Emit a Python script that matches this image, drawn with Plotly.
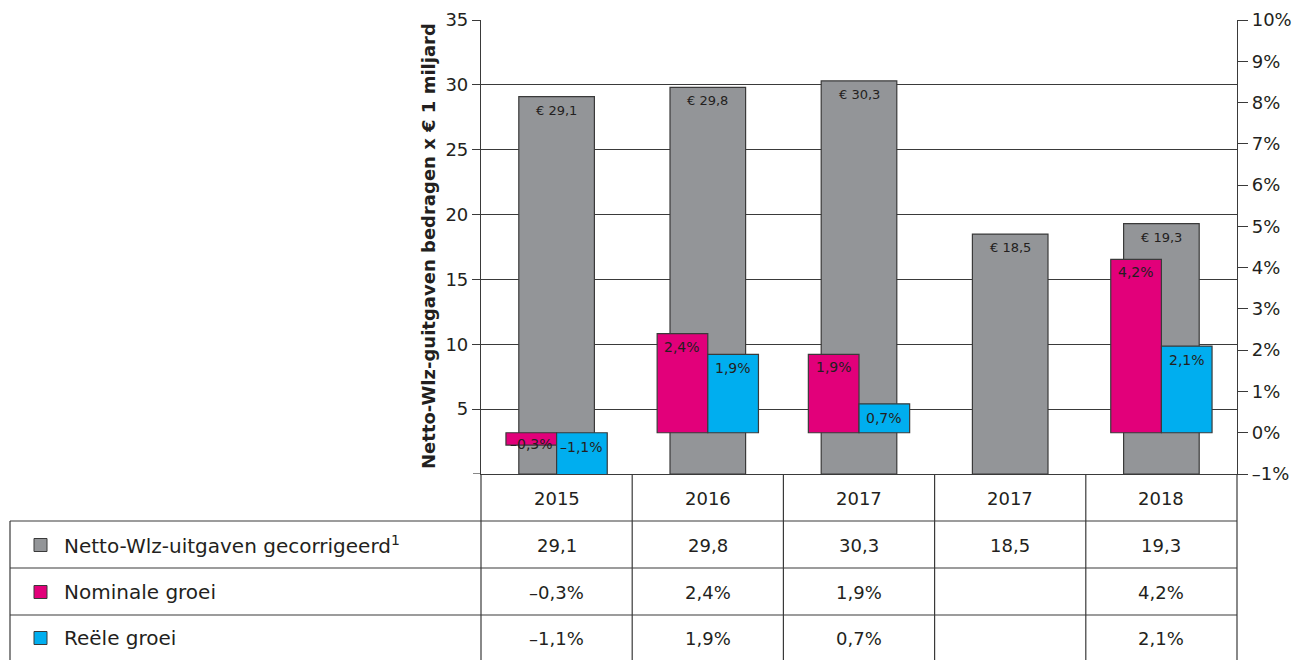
import plotly.graph_objects as go

# ---- data ----
years = ["2015", "2016", "2017", "2017", "2018"]
netto = [29.1, 29.8, 30.3, 18.5, 19.3]
nominaal = [-0.3, 2.4, 1.9, None, 4.2]
reeel = [-1.1, 1.9, 0.7, None, 2.1]
netto_txt = ["29,1", "29,8", "30,3", "18,5", "19,3"]
nominaal_txt = ["\u20130,3%", "2,4%", "1,9%", "", "4,2%"]
reeel_txt = ["\u20131,1%", "1,9%", "0,7%", "", "2,1%"]
row_labels = ["Netto-Wlz-uitgaven gecorrigeerd<sup>1</sup>", "Nominale groei", "Reële groei"]
left_ticks = [5, 10, 15, 20, 25, 30, 35]
right_ticks = list(range(-1, 11))

GREY = "#939598"
PINK = "#e2007a"
BLUE = "#00aeef"
LINE = "#3a3a3a"
TXT = "#231f20"
FONT = "DejaVu Sans, Liberation Sans, Arial, sans-serif"

W, H = 1295, 660
L, R, T, B = 481, 1237, 20, 474  # plot area in px


def px(xp):
    return (xp - L) / (R - L)


def py(yp):
    return (B - yp) / (B - T)


xs = list(range(len(years)))
fig = go.Figure()

fig.add_trace(go.Bar(x=xs, y=netto, width=0.5, offset=-0.25, marker=dict(color=GREY, line=dict(color=LINE, width=1.2)),
                     yaxis="y", hoverinfo="skip", showlegend=False))
fig.add_trace(go.Bar(x=xs, y=nominaal, width=0.335, offset=-0.335, marker=dict(color=PINK, line=dict(color=LINE, width=1.2)),
                     yaxis="y2", cliponaxis=False, hoverinfo="skip", showlegend=False))
fig.add_trace(go.Bar(x=xs, y=reeel, width=0.335, offset=0.0, marker=dict(color=BLUE, line=dict(color=LINE, width=1.2)),
                     yaxis="y2", cliponaxis=False, hoverinfo="skip", showlegend=False))

ann = []
# bar labels
for i, v in enumerate(netto):
    ann.append(dict(x=i, y=v, xref="x", yref="y", text="\u20ac " + netto_txt[i], showarrow=False,
                    xanchor="center", yanchor="top", yshift=-4, font=dict(size=13, color=TXT, family=FONT)))
for i, v in enumerate(nominaal):
    if v is None:
        continue
    ann.append(dict(x=i - 0.1675, y=max(v, 0), xref="x", yref="y2", text=nominaal_txt[i], showarrow=False,
                    xanchor="center", yanchor="top", yshift=-1 if v < 0 else -3,
                    font=dict(size=14, color=TXT, family=FONT)))
for i, v in enumerate(reeel):
    if v is None:
        continue
    ann.append(dict(x=i + 0.1675, y=max(v, 0), xref="x", yref="y2", text=reeel_txt[i], showarrow=False,
                    xanchor="center", yanchor="top", yshift=-4, font=dict(size=14, color=TXT, family=FONT)))

# y axis title
ann.append(dict(x=px(428), y=py(246), xref="paper", yref="paper",
                text="<b>Netto-Wlz-guitgaven bedragen x \u20ac 1 miljard</b>",
                textangle=-90, showarrow=False, xanchor="center", yanchor="middle",
                font=dict(size=18, color=TXT, family=FONT)))

# table
row_y = [498, 545, 592, 638]
n = len(years)
for i, yr in enumerate(years):
    cx = (i + 0.5) / n
    ann.append(dict(x=cx, y=py(row_y[0]), xref="paper", yref="paper", text=yr, showarrow=False,
                    xanchor="center", yanchor="middle", font=dict(size=18, color=TXT, family=FONT)))
    for r, vals in enumerate([netto_txt, nominaal_txt, reeel_txt]):
        if not vals[i]:
            continue
        ann.append(dict(x=cx, y=py(row_y[r + 1]), xref="paper", yref="paper", text=vals[i], showarrow=False,
                        xanchor="center", yanchor="middle", font=dict(size=18, color=TXT, family=FONT)))
for r, lab in enumerate(row_labels):
    ann.append(dict(x=px(62), y=py(row_y[r + 1]), xref="paper", yref="paper", text=lab, showarrow=False,
                    xanchor="left", yanchor="middle", font=dict(size=20, color=TXT, family=FONT)))

shapes = []
lc = dict(color=LINE, width=1.2)
# left axis tick at 0 (unlabelled)
shapes.append(dict(type="line", xref="paper", yref="y", x0=px(473), x1=0, y0=0, y1=0, line=lc))
for yl in [521, 568, 615]:
    shapes.append(dict(type="line", xref="paper", yref="paper", x0=px(10), x1=1, y0=py(yl), y1=py(yl), line=lc))
shapes.append(dict(type="line", xref="paper", yref="paper", x0=px(10), x1=px(10), y0=py(521), y1=py(661), line=lc))
for k in range(n + 1):
    shapes.append(dict(type="line", xref="paper", yref="paper", x0=k / n, x1=k / n, y0=0, y1=py(661), line=lc))
for r, col in enumerate([GREY, PINK, BLUE]):
    yc = row_y[r + 1]
    shapes.append(dict(type="rect", xref="paper", yref="paper", x0=px(34), x1=px(47), y0=py(yc - 6.5), y1=py(yc + 6.5),
                       fillcolor=col, line=dict(color=LINE, width=1)))

fig.update_layout(
    width=W, height=H,
    margin=dict(l=L, r=W - R, t=T, b=H - B, autoexpand=False),
    paper_bgcolor="white", plot_bgcolor="white",
    barmode="overlay",
    font=dict(family=FONT, color=TXT),
    xaxis=dict(range=[-0.5, 4.5], showticklabels=False, ticks="", showgrid=False, zeroline=False,
               showline=True, linecolor=LINE, linewidth=1.2, fixedrange=True),
    yaxis=dict(range=[0, 35], tickvals=left_ticks, ticktext=[str(t) for t in left_ticks],
               ticks="outside", ticklen=8, tickcolor=LINE, tickwidth=1.2,
               showgrid=True, gridcolor=LINE, gridwidth=1.2, zeroline=False,
               showline=True, linecolor=LINE, linewidth=1.2,
               tickfont=dict(size=18, color=TXT, family=FONT)),
    yaxis2=dict(range=[-1, 10], overlaying="y", side="right", tickvals=right_ticks,
                ticktext=[("\u2013" + str(-t) if t < 0 else str(t)) + "%" for t in right_ticks],
                ticks="outside", ticklen=10, tickcolor=LINE, tickwidth=1.2,
                showgrid=False, zeroline=False, showline=True, linecolor=LINE, linewidth=1.2,
                tickfont=dict(size=18, color=TXT, family=FONT)),
    annotations=ann,
    shapes=shapes,
)

fig.write_html("out.html", config={"displayModeBar": False},
               post_script="document.body.style.margin='0px';")
